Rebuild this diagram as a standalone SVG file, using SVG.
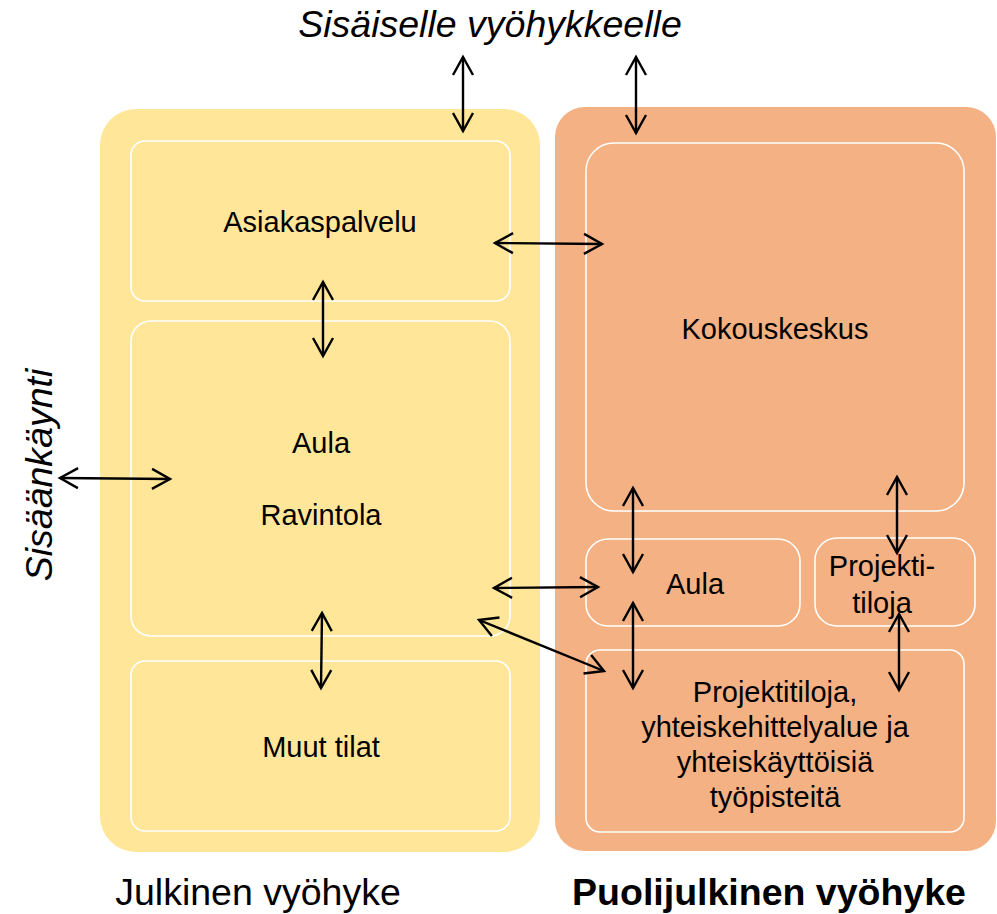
<svg xmlns="http://www.w3.org/2000/svg" width="997" height="914" viewBox="0 0 997 914">
  <style>
    .zone-pub { fill: #FFE699; }
    .zone-semi { fill: #F4B183; }
    .room-pub { fill: #FFE699; stroke: #FFFFFF; stroke-width: 1.6; }
    .room-semi { fill: #F4B183; stroke: #FFFFFF; stroke-width: 1.6; }
    .lbl { font-family: "Liberation Sans", Arial, sans-serif; font-size: 29px; fill: #000; text-anchor: middle; }
    .cap { font-family: "Liberation Sans", Arial, sans-serif; font-size: 37.5px; fill: #000; text-anchor: middle; }
    .conn line { stroke: #000; stroke-width: 2.4; fill: none; marker-start: url(#head); marker-end: url(#head); }
  </style>
  <defs>
    <marker id="head" markerUnits="userSpaceOnUse" viewBox="-21 -13 24 26" markerWidth="24" markerHeight="26" refX="0" refY="0" orient="auto-start-reverse">
      <path d="M-18,-10 L0,0 L-18,10" fill="none" stroke="#000" stroke-width="2.4"/>
    </marker>
  </defs>

  <rect width="997" height="914" fill="#FFFFFF"/>

  <!-- zones -->
  <g id="zone-public">
    <rect class="zone-pub" x="100" y="109" width="440" height="743" rx="36"/>
  </g>
  <g id="zone-semipublic">
    <rect class="zone-semi" x="555" y="107" width="441" height="744" rx="30"/>
  </g>

  <!-- public rooms -->
  <g id="asiakaspalvelu">
    <rect class="room-pub" x="131" y="141" width="379" height="160" rx="14"/>
    <text class="lbl" x="320" y="232">Asiakaspalvelu</text>
  </g>
  <g id="aula-ravintola">
    <rect class="room-pub" x="131" y="321" width="379" height="315" rx="20"/>
    <text class="lbl" x="321" y="453">Aula</text>
    <text class="lbl" x="321" y="525">Ravintola</text>
  </g>
  <g id="muut-tilat">
    <rect class="room-pub" x="131" y="661" width="379" height="170" rx="14"/>
    <text class="lbl" x="321" y="757">Muut tilat</text>
  </g>

  <!-- semi-public rooms -->
  <g id="kokouskeskus">
    <rect class="room-semi" x="586" y="143" width="378" height="368" rx="28"/>
    <text class="lbl" x="775" y="339">Kokouskeskus</text>
  </g>
  <g id="aula-semi">
    <rect class="room-semi" x="586" y="539" width="214" height="87" rx="22"/>
    <text class="lbl" x="695" y="594">Aula</text>
  </g>
  <g id="projektitiloja-small">
    <rect class="room-semi" x="815" y="538" width="160" height="88" rx="22"/>
    <text class="lbl" x="882" y="576">Projekti-</text>
    <text class="lbl" x="882" y="613">tiloja</text>
  </g>
  <g id="projektitiloja-large">
    <rect class="room-semi" x="586" y="650" width="378" height="182" rx="14"/>
    <text class="lbl" x="775" y="702">Projektitiloja,</text>
    <text class="lbl" x="775" y="737">yhteiskehittelyalue ja</text>
    <text class="lbl" x="775" y="772">yhteiskäyttöisiä</text>
    <text class="lbl" x="775" y="807">työpisteitä</text>
  </g>

  <!-- captions -->
  <g id="captions">
    <text class="cap" x="490" y="37" font-style="italic">Sisäiselle vyöhykkeelle</text>
    <text class="cap" x="0" y="0" font-style="italic" font-size="36.5" transform="translate(52 475) rotate(-90)">Sisäänkäynti</text>
    <text class="cap" x="258" y="905">Julkinen vyöhyke</text>
    <text class="cap" x="769" y="905" font-weight="bold" font-size="36.3">Puolijulkinen vyöhyke</text>
  </g>

  <!-- connectors -->
  <g id="connectors" class="conn">
    <line x1="463" y1="57" x2="463" y2="131"/>
    <line x1="636" y1="57" x2="636" y2="133"/>
    <line x1="495" y1="243" x2="602" y2="244"/>
    <line x1="323" y1="282" x2="323" y2="356"/>
    <line x1="60" y1="478" x2="170" y2="479"/>
    <line x1="322" y1="613" x2="321" y2="688"/>
    <line x1="494" y1="588" x2="598" y2="587"/>
    <line x1="479" y1="620" x2="604" y2="671"/>
    <line x1="633" y1="488" x2="633" y2="572"/>
    <line x1="633" y1="603" x2="633" y2="688"/>
    <line x1="897" y1="477" x2="897" y2="553"/>
    <line x1="899" y1="614" x2="899" y2="690"/>
  </g>
</svg>
